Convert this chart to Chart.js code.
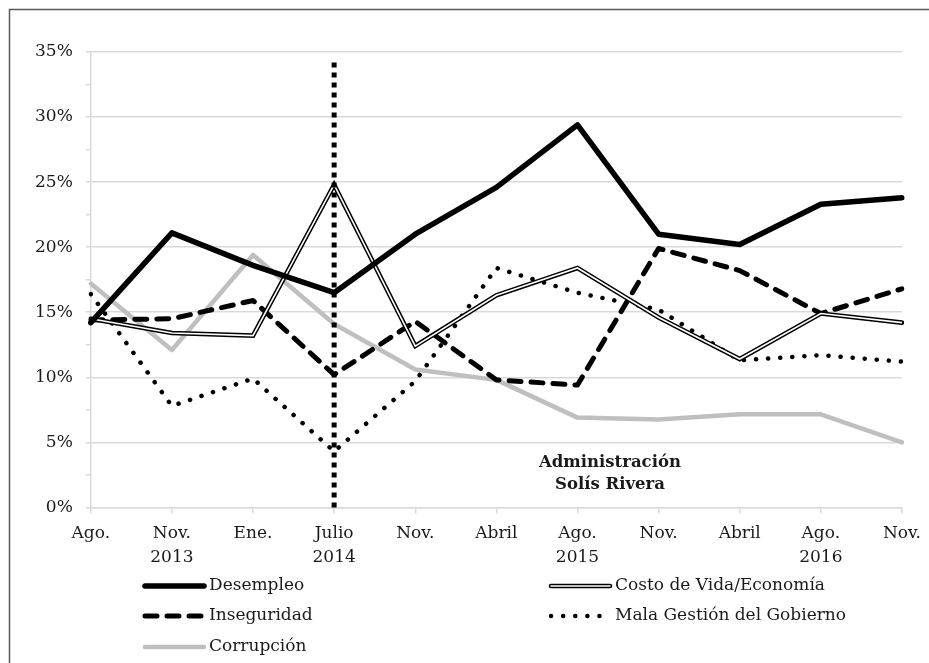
<!DOCTYPE html>
<html lang="es">
<head>
    <meta charset="UTF-8">
    <title>Principales problemas</title>
    <script src="https://cdn.jsdelivr.net/npm/chart.js"></script>
    <style>
        html, body { margin: 0; padding: 0; background: #fff; }
        .chart-container { position: relative; width: 929px; height: 663px; }
    </style>
</head>
<body>
    <div class="chart-container">
        <canvas id="problemsChart"></canvas>
    </div>
    <script>
        const periods = [['Ago.'], ['Nov.', '2013'], ['Ene.'], ['Julio', '2014'], ['Nov.'], ['Abril'], ['Ago.', '2015'], ['Nov.'], ['Abril'], ['Ago.', '2016'], ['Nov.']];

        const desempleo   = [14.2, 21.1, 18.6, 16.5, 21.0, 24.6, 29.4, 21.0, 20.2, 23.3, 23.8];
        const costoVida   = [14.5, 13.4, 13.2, 24.8, 12.4, 16.3, 18.4, 14.6, 11.4, 14.9, 14.2];
        const inseguridad = [14.4, 14.5, 15.9, 10.2, 14.3,  9.8,  9.4, 19.9, 18.2, 14.9, 16.8];
        const malaGestion = [16.4,  7.8,  9.9,  4.3,  9.7, 18.4, 16.5, 15.2, 11.3, 11.7, 11.2];
        const corrupcion  = [17.2, 12.1, 19.4, 14.1, 10.6,  9.8,  6.9,  6.75, 7.15, 7.15, 5.0];

        // start of the Solís Rivera administration
        const markerIndex = 3;
        const markerTop = 34.2;
        const adminLabel = ['Administración', 'Solís Rivera'];

        const FONT = '"DejaVu Serif", serif';
        const TEXT = '#1a1a1a';
        const GRID = '#d9d9d9';

        // frame round the figure (only top and left show)
        const framePlugin = {
            id: 'frame',
            beforeDraw(chart) {
                const ctx = chart.ctx;
                ctx.save();
                ctx.fillStyle = '#fff';
                ctx.fillRect(0, 0, chart.width, chart.height);
                ctx.strokeStyle = '#595959';
                ctx.lineWidth = 1.5;
                ctx.strokeRect(9.5, 9.5, chart.width + 20, chart.height + 20);
                ctx.restore();
            }
        };

        // vertical dotted line at Julio 2014 + label
        const markerPlugin = {
            id: 'marker',
            afterDatasetsDraw(chart) {
                const ctx = chart.ctx;
                const x = chart.scales.x.getPixelForValue(markerIndex);
                const y0 = chart.scales.y.getPixelForValue(0);
                const y1 = chart.scales.y.getPixelForValue(markerTop);
                ctx.save();
                ctx.strokeStyle = '#000';
                ctx.lineWidth = 5;
                ctx.lineCap = 'butt';
                ctx.setLineDash([5, 5]);
                ctx.beginPath();
                ctx.moveTo(x, y0);
                ctx.lineTo(x, y1);
                ctx.stroke();
                ctx.setLineDash([]);

                const tx = chart.scales.x.getPixelForValue(6.4);
                const ty = chart.scales.y.getPixelForValue(3.4);
                ctx.fillStyle = TEXT;
                ctx.font = 'bold 16.5px ' + FONT;
                ctx.textAlign = 'center';
                ctx.textBaseline = 'middle';
                ctx.fillText(adminLabel[0], tx, ty);
                ctx.fillText(adminLabel[1], tx, ty + 22);
                ctx.restore();
            }
        };

        // two-column legend below the axis
        const legendPlugin = {
            id: 'gridLegend',
            afterDraw(chart) {
                const ctx = chart.ctx;
                const cols = [145, 551];
                const rows = [586, 616, 647];
                const items = chart.data.datasets.filter(d => !d.hideInLegend);
                ctx.save();
                ctx.font = '17px ' + FONT;
                ctx.fillStyle = TEXT;
                ctx.textBaseline = 'middle';
                items.forEach((d, i) => {
                    const x = cols[i % 2];
                    const y = rows[Math.floor(i / 2)];
                    const dotted = d.borderDash && d.borderDash[0] < 1;
                    const draw = (color, width) => {
                        ctx.strokeStyle = color;
                        ctx.lineWidth = width;
                        ctx.lineCap = d.borderCapStyle || 'round';
                        ctx.setLineDash(d.borderDash || []);
                        ctx.beginPath();
                        ctx.moveTo(x, y);
                        ctx.lineTo(x + (dotted ? 52 : 59), y);
                        ctx.stroke();
                    };
                    draw(d.borderColor, d.borderWidth);
                    if (d.innerColor) draw(d.innerColor, 1.6);
                    ctx.setLineDash([]);
                    ctx.fillText(d.label, x + 64, y);
                });
                ctx.restore();
            }
        };

        const ctx = document.getElementById('problemsChart').getContext('2d');
        new Chart(ctx, {
            type: 'line',
            data: {
                labels: periods,
                datasets: [
                    {
                        label: 'Desempleo',
                        data: desempleo,
                        borderColor: '#000',
                        borderWidth: 5.5,
                        borderJoinStyle: 'round',
                        borderCapStyle: 'round',
                        order: 0
                    },
                    {
                        label: 'Costo de Vida/Economía',
                        data: costoVida,
                        borderColor: '#000',
                        innerColor: '#fff',
                        borderWidth: 4.6,
                        borderJoinStyle: 'miter',
                        borderCapStyle: 'round',
                        order: 2
                    },
                    {
                        label: 'Inseguridad',
                        data: inseguridad,
                        borderColor: '#000',
                        borderWidth: 5,
                        borderDash: [12, 10],
                        borderCapStyle: 'round',
                        borderJoinStyle: 'round',
                        order: 3
                    },
                    {
                        label: 'Mala Gestión del Gobierno',
                        data: malaGestion,
                        borderColor: '#000',
                        borderWidth: 4.5,
                        borderDash: [0.1, 12],
                        borderCapStyle: 'round',
                        order: 4
                    },
                    {
                        label: 'Corrupción',
                        data: corrupcion,
                        borderColor: '#bfbfbf',
                        borderWidth: 4.5,
                        borderJoinStyle: 'round',
                        borderCapStyle: 'round',
                        order: 5
                    },
                    {
                        label: 'Costo de Vida/Economía (interior)',
                        data: costoVida,
                        borderColor: '#fff',
                        borderWidth: 1.6,
                        hideInLegend: true,
                        order: 1
                    }
                ]
            },
            options: {
                responsive: true,
                maintainAspectRatio: false,
                animation: false,
                elements: { point: { radius: 0 }, line: { tension: 0 } },
                layout: { padding: { left: 22, right: 12, top: 52, bottom: 86 } },
                scales: {
                    x: {
                        offset: false,
                        grid: { drawOnChartArea: false, color: GRID, lineWidth: 1.5, tickLength: 6 },
                        border: { color: GRID, width: 1.5 },
                        ticks: {
                            color: TEXT,
                            font: { family: FONT, size: 17, lineHeight: 1.4 },
                            padding: 8,
                            maxRotation: 0,
                            autoSkip: false
                        }
                    },
                    y: {
                        min: 0,
                        max: 35,
                        grid: {
                            color: c => (c.tick && c.tick.value % 5 === 0) ? GRID : 'rgba(0,0,0,0)',
                            tickColor: GRID,
                            lineWidth: 1.5,
                            tickLength: 5
                        },
                        border: { color: GRID, width: 1.5 },
                        ticks: {
                            stepSize: 2.5,
                            color: TEXT,
                            font: { family: FONT, size: 17 },
                            padding: 13,
                            callback: v => v % 5 === 0 ? v + '%' : ''
                        }
                    }
                },
                plugins: {
                    legend: { display: false },
                    tooltip: { enabled: false }
                }
            },
            plugins: [framePlugin, markerPlugin, legendPlugin]
        });
    </script>
</body>
</html>
